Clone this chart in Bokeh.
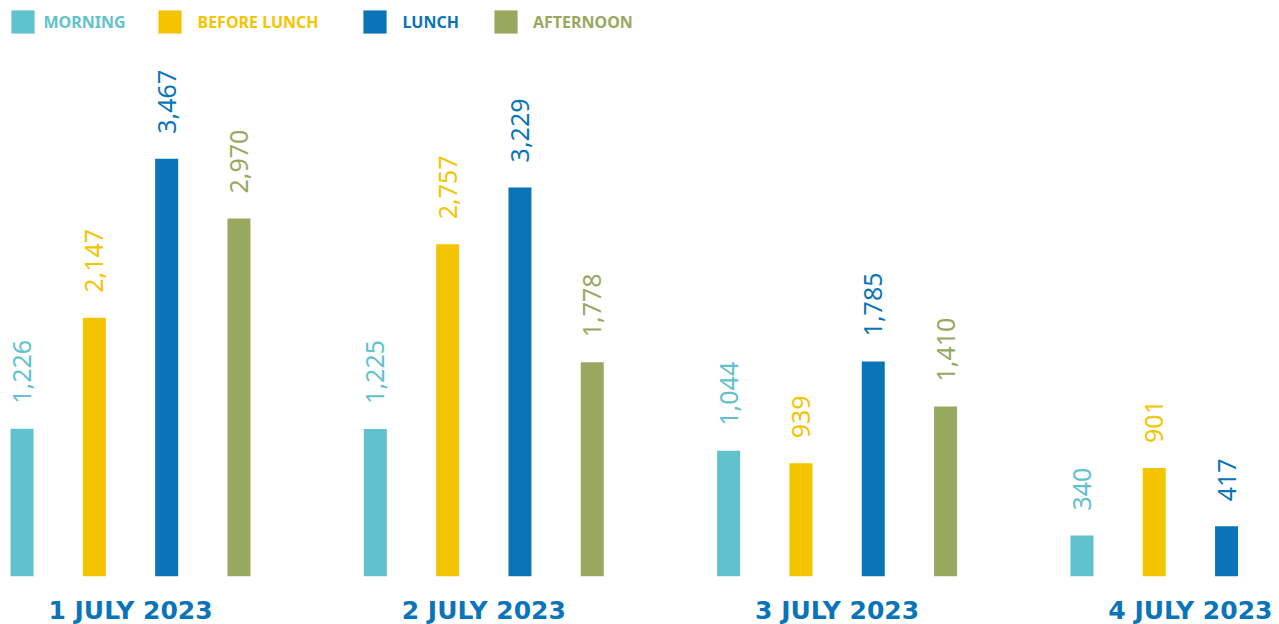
from bokeh.plotting import figure
from bokeh.models import ColumnDataSource, Range1d, FixedTicker, Legend, LegendItem
from bokeh.core.properties import value
from bokeh.embed import file_html
from bokeh.resources import INLINE
import math

dates = ["1 JULY 2023", "2 JULY 2023", "3 JULY 2023", "4 JULY 2023"]
periods = ["MORNING", "BEFORE LUNCH", "LUNCH", "AFTERNOON"]
morning = [1226, 1225, 1044, 340]
before_lunch = [2147, 2757, 939, 901]
lunch = [3467, 3229, 1785, 417]
afternoon = [2970, 1778, 1410, None]
colors = ["#5fc2cc", "#f5c400", "#0a74b8", "#98a95f"]
series = [morning, before_lunch, lunch, afternoon]

FONT = "Noto Sans"
GROUP_PX = 353.3
step = 72.3 / GROUP_PX
bar_w = 23 / GROUP_PX
x_start = -130 / GROUP_PX
x_end = x_start + 1279 / GROUP_PX

p = figure(frame_width=1279, frame_height=576, min_border=0,
           x_range=Range1d(x_start, x_end), y_range=Range1d(0, 4780),
           output_backend="svg", toolbar_location=None, y_axis_location=None)
p.outline_line_color = None
p.xgrid.visible = False
p.ygrid.visible = False
p.background_fill_color = "white"
p.border_fill_color = "white"

legend_x = [7.5, 154.5, 359.5, 491]
legend_standoff = [7, 14, 14, 13]
for i, (name, vals, col) in enumerate(zip(periods, series, colors)):
    xs, ys, labels = [], [], []
    for g, v in enumerate(vals):
        if v is None:
            continue
        xs.append(g + (i - 1.5) * step)
        ys.append(v)
        labels.append(f"{v:,}")
    src = ColumnDataSource(dict(x=xs, y=ys, label=labels))
    r = p.vbar(x="x", top="y", width=bar_w, bottom=0, source=src,
               fill_color=col, line_color=None)
    p.text(x="x", y="y", text="label", source=src, angle=math.pi / 2,
           text_align="left", text_baseline="middle", y_offset=-25,
           text_font=value(FONT), text_font_size="25px", text_color=col)
    leg = Legend(items=[LegendItem(label=name, renderers=[r])],
                 location=(legend_x[i], 540), orientation="horizontal",
                 glyph_width=29, glyph_height=29,
                 label_standoff=legend_standoff[i],
                 padding=0, margin=0, border_line_color=None,
                 background_fill_alpha=0,
                 label_text_font=FONT, label_text_font_size="16px",
                 label_text_font_style="bold", label_text_color=col,
                 label_height=29)
    p.add_layout(leg)

ax = p.xaxis[0]
ax.ticker = FixedTicker(ticks=[0, 1, 2, 3])
ax.major_label_overrides = {i: d for i, d in enumerate(dates)}
ax.axis_line_color = None
ax.major_tick_line_color = None
ax.minor_tick_line_color = None
ax.major_label_standoff = 13
ax.major_label_text_font = "DejaVu Sans"
ax.major_label_text_font_size = "25px"
ax.major_label_text_font_style = "bold"
ax.major_label_text_color = "#0a74b8"

open("out.html", "w").write(file_html(p, INLINE))
